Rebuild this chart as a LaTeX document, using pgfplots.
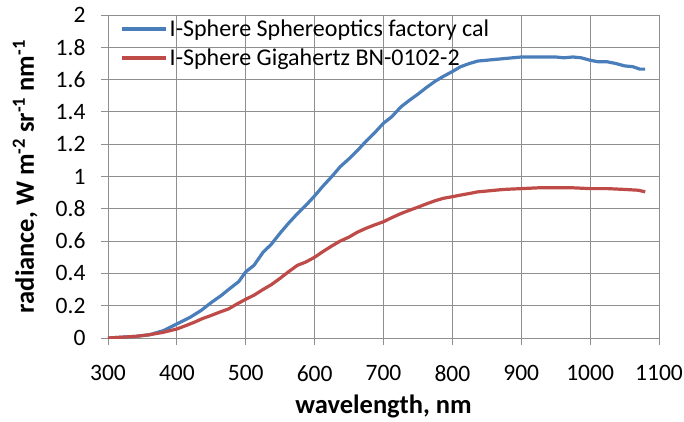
\documentclass[border=0pt]{standalone}
\usepackage{pgfplots}
\pgfplotsset{compat=1.18}
\usepackage{fontspec}
\setmainfont{Carlito}
\definecolor{xlblue}{HTML}{4A7EBB}
\definecolor{xlred}{HTML}{BE4B48}
\definecolor{gridc}{HTML}{8E8E8E}
\begin{document}
\begin{tikzpicture}
\useasboundingbox (-108pt,-83pt) rectangle (576pt,338pt);
\begin{axis}[
  scale only axis, width=551pt, height=323pt,
  xmin=300, xmax=1100, ymin=0, ymax=2,
  xtick={300,400,...,1100}, ytick={0,0.2,...,2.01},
  yticklabels={0,0.2,0.4,0.6,0.8,1,1.2,1.4,1.6,1.8,2},
  grid=major, major grid style={gridc, line width=0.9pt},
  axis line style={gridc, line width=0.9pt},
  tick style={gridc, line width=0.9pt},
  tick align=outside, major tick length=7pt,
  xtick pos=bottom, ytick pos=left,
  /pgf/number format/assume math mode=true,
  /pgf/number format/1000 sep={},
  tick label style={font=\fontsize{23.5}{26}\selectfont},
  xticklabel style={yshift=-17pt},
  yticklabel style={xshift=-12pt},
  xlabel={\textbf{wavelength, nm}},
  ylabel={\textbf{radiance, W m\textsuperscript{-2} sr\textsuperscript{-1} nm\textsuperscript{-1}}},
  label style={font=\fontsize{26.5}{28}\selectfont},
  xlabel style={at={(axis description cs:0.5,0)}, anchor=base, yshift=-75pt},
  ylabel style={at={(axis description cs:0,0.5)}, anchor=center, yshift=83pt},
  legend style={draw=none, fill=none, at={(axis description cs:0.02,0.995)}, anchor=north west,
    font=\fontsize{24}{26}\selectfont, row sep=7pt, inner sep=1pt},
  legend cell align=left,
  legend image code/.code={\draw[#1, line width=3.5pt] (0pt,0pt) -- (44pt,0pt);},
  every axis plot/.append style={line width=3.2pt},
]
\addplot[xlblue] coordinates {
(300,0) (320,0.005) (340,0.01) (360,0.02) (380,0.045) (400,0.087) (420,0.13) (435,0.17)
(450,0.22) (465,0.265) (475,0.30) (490,0.35) (500,0.41) (512,0.45) (525,0.53) (537,0.58) (550,0.65)
(562,0.71) (575,0.77) (587,0.82) (600,0.88) (612,0.94) (625,1.0) (637,1.06) (650,1.11) (662,1.16)
(675,1.22) (687,1.27) (700,1.33) (712,1.37) (725,1.43) (737,1.47) (750,1.51) (762,1.55) (775,1.59)
(787,1.62) (800,1.65) (812,1.68) (825,1.70) (837,1.715) (850,1.72) (862,1.725) (875,1.73)
(900,1.74) (925,1.74) (950,1.74) (962,1.735) (975,1.74) (987,1.735) (1000,1.72) (1012,1.71)
(1025,1.71) (1037,1.70) (1050,1.685) (1062,1.68) (1072,1.665) (1080,1.665)
};
\addlegendentry{I-Sphere Sphereoptics factory cal}
\addplot[xlred] coordinates {
(300,0) (320,0.005) (340,0.01) (360,0.02) (380,0.035) (400,0.056) (412,0.075) (425,0.097)
(437,0.12) (450,0.14) (462,0.16) (475,0.18) (487,0.21) (500,0.24) (512,0.265) (525,0.30)
(537,0.33) (550,0.37) (562,0.41) (575,0.45) (587,0.47) (600,0.50) (612,0.535) (625,0.57)
(637,0.60) (650,0.625) (662,0.655) (675,0.68) (687,0.70) (700,0.72) (712,0.745) (725,0.77)
(737,0.79) (750,0.81) (762,0.83) (775,0.85) (787,0.865) (800,0.875) (812,0.885) (825,0.895)
(837,0.905) (850,0.91) (862,0.915) (875,0.92) (900,0.925) (925,0.93) (950,0.93) (975,0.93)
(1000,0.925) (1025,0.925) (1050,0.92) (1070,0.915) (1080,0.905)
};
\addlegendentry{I-Sphere Gigahertz BN-0102-2}
\end{axis}
\end{tikzpicture}
\end{document}
